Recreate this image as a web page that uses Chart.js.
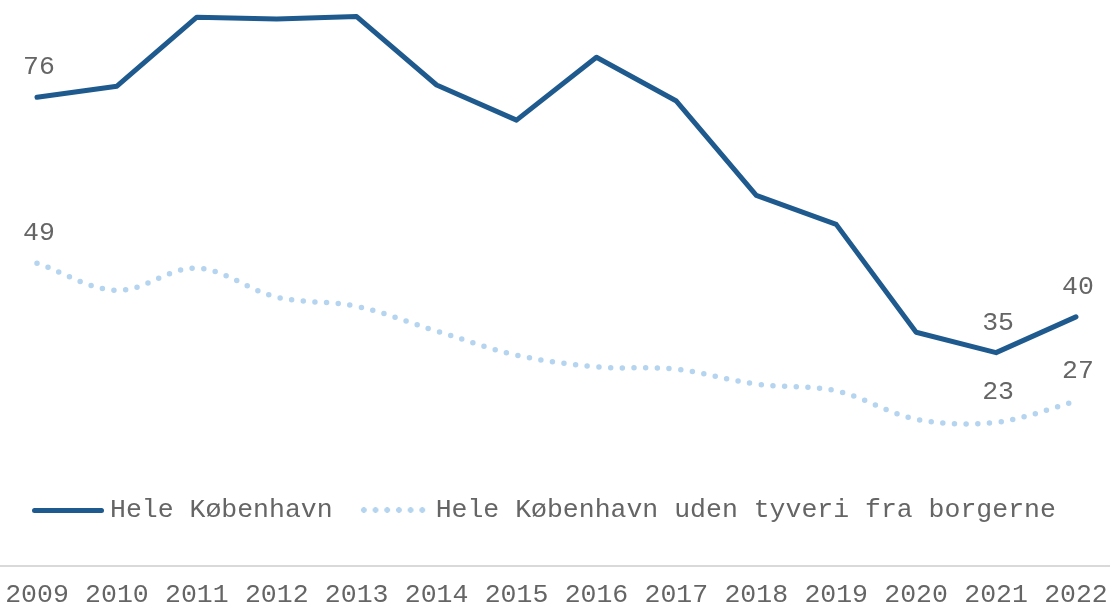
<!DOCTYPE html>
<html>
<head>
<meta charset="utf-8">
<script src="https://cdn.jsdelivr.net/npm/chart.js@4"></script>
<style>
  html, body { margin: 0; padding: 0; background: #fff; }
  #wrap { position: relative; width: 1110px; height: 609px; }
  #legend {
    position: absolute; left: 32px; top: 494px; height: 32px;
    display: flex; align-items: center;
    font-family: 'Liberation Mono', 'Courier New', monospace;
    font-size: 26.5px; color: #656565; white-space: pre;
  }
  .sw-solid { width: 72px; height: 5px; border-radius: 3px; background: #1f5a8e; margin-right: 6px; }
  .sw-dot {
    width: 70px; height: 6px; margin-left: 25px; margin-right: 8px;
    background: radial-gradient(circle, #b4d4ef 2.6px, transparent 3.1px) 0 0 / 11.7px 6px repeat-x;
  }
</style>
</head>
<body>
<div id="wrap">
  <canvas id="chart" width="1110" height="609"></canvas>
  <div id="legend">
    <span class="sw-solid"></span><span>Hele København</span>
    <span class="sw-dot"></span><span>Hele København uden tyveri fra borgerne</span>
  </div>
</div>
<script>
const years = [2009, 2010, 2011, 2012, 2013, 2014, 2015, 2016, 2017, 2018, 2019, 2020, 2021, 2022];
const heleKbh = [76.0, 77.8, 89.0, 88.7, 89.1, 78.0, 72.3, 82.5, 75.4, 60.1, 55.4, 37.9, 34.6, 40.4];
const udenTyveri = [49.1, 44.7, 48.3, 43.6, 42.1, 38.1, 34.2, 32.3, 31.9, 29.5, 28.4, 23.8, 23.3, 26.7];
// which points get a value label
const labelledPoints = [0, 12, 13];

const FONT = "'Liberation Mono', 'Courier New', monospace";
const TEXT = '#656565';

// value labels above selected points
const valueLabels = {
    id: 'valueLabels',
    afterDatasetsDraw(chart) {
        const ctx = chart.ctx;
        ctx.save();
        ctx.font = '26.5px ' + FONT;
        ctx.fillStyle = TEXT;
        ctx.textAlign = 'center';
        ctx.textBaseline = 'middle';
        chart.data.datasets.forEach((ds, i) => {
            const meta = chart.getDatasetMeta(i);
            labelledPoints.forEach(idx => {
                const p = meta.data[idx];
                ctx.fillText(Math.round(ds.data[idx].y), p.x + 2, p.y - 30);
            });
        });
        ctx.restore();
    }
};

new Chart(document.getElementById('chart'), {
    type: 'line',
    data: {
        datasets: [{
            label: 'Hele København',
            data: years.map((y, i) => ({ x: y, y: heleKbh[i] })),
            borderColor: '#1f5a8e',
            borderWidth: 5,
            borderJoinStyle: 'round',
            borderCapStyle: 'round',
            pointRadius: 0,
            tension: 0
        }, {
            label: 'Hele København uden tyveri fra borgerne',
            data: years.map((y, i) => ({ x: y, y: udenTyveri[i] })),
            borderColor: '#b4d4ef',
            borderWidth: 5.5,
            borderDash: [0, 11.7],
            borderCapStyle: 'round',
            pointRadius: 0,
            tension: 0.35
        }]
    },
    options: {
        responsive: false,
        animation: false,
        layout: { padding: { top: 11, left: 0, right: 0, bottom: 0 } },
        plugins: { legend: { display: false }, tooltip: { enabled: false } },
        scales: {
            x: {
                type: 'linear',
                min: 2008.537,
                max: 2022.426,
                afterBuildTicks: axis => { axis.ticks = years.map(v => ({ value: v })); },
                afterFit: axis => {
                    axis.height = 43;
                    axis.paddingLeft = 0;
                    axis.paddingRight = 0;
                },
                grid: { display: false, drawTicks: false },
                border: { display: true, color: '#d9d9d9', width: 2 },
                ticks: {
                    color: TEXT,
                    font: { family: FONT, size: 26.5 },
                    padding: 13,
                    maxRotation: 0,
                    autoSkip: false,
                    callback: v => String(v)
                }
            },
            y: { display: false, min: 0, max: 90 }
        }
    },
    plugins: [valueLabels]
});
</script>
</body>
</html>
